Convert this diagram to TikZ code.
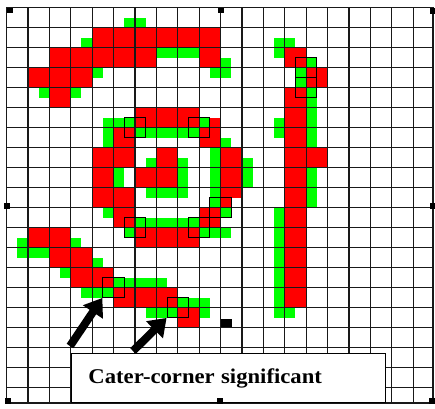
\documentclass[tikz,border=0pt]{standalone}
\usepackage{fontspec}
\setmainfont{Liberation Serif}
\newfontfamily\notefont[FakeStretch=1.08]{Liberation Serif}
\usetikzlibrary{arrows.meta,positioning}
\definecolor{pxred}{RGB}{255,0,0}
\definecolor{pxgreen}{RGB}{0,255,0}
\newcommand{\pxw}{10.7}
\newcommand{\pxh}{10}
\tikzset{
  redpx/.style={fill=pxred},
  greenpx/.style={fill=pxgreen},
  gline/.style={line width=1.2pt,draw=black!90},
  diagbox/.style={draw=black,line width=0.8pt,minimum width=21.4pt,minimum height=20pt,inner sep=0pt},
  handle/.style={fill=black},
  bigarr/.style={-{Triangle[length=17pt,width=23pt]},line width=8pt,draw=black},
  notebox/.style={draw=black,fill=white,line width=0.9pt,minimum height=49pt,text width=280pt,inner xsep=17pt,inner ysep=0pt,align=left}
}

\begin{document}
\begin{tikzpicture}[x=1pt,y=-1pt]
  \useasboundingbox (0,0) rectangle (435,408);
  % pixel runs: first col / last col / first row / last row (half cells)
  \foreach \a/\b/\r/\s in {
     8/19/2/3, 4/13/4/5, 18/19/4/5, 2/7/6/7, 4/5/8/9,
     12/17/10/11, 19/19/11/11, 10/11/12/13, 18/19/12/13, 8/11/14/15, 14/15/14/15,
     20/21/14/18, 8/9/16/17, 12/15/16/17, 8/11/18/19, 20/20/19/19, 10/11/20/21,
     18/19/20/21, 12/17/22/23,
     26/27/4/5, 28/29/6/7, 26/27/8/13, 28/29/14/15, 26/27/14/29,
     2/5/22/23, 4/7/24/25, 6/9/26/27, 10/15/28/29, 16/17/30/31}
    \fill[redpx] ({6.5+\pxw*\a},{7.5+\pxh*\r}) rectangle ({6.5+\pxw*(\b+1)},{7.5+\pxh*(\s+1)});
  \foreach \a/\b/\r/\s in {
     11/12/1/1, 7/7/3/3, 14/17/4/4, 20/20/5/5, 8/8/6/6, 19/20/6/6, 3/3/8/8, 6/6/8/8,
     9/11/11/11, 18/18/11/11, 9/9/12/13, 12/17/12/12, 20/20/13/13, 19/19/14/18,
     13/13/15/15, 16/16/15/17, 22/22/15/17, 10/10/16/17, 13/16/18/18, 19/19/19/19,
     9/9/20/20, 20/20/20/20, 12/17/21/21, 11/11/22/22, 18/20/22/22,
     25/26/3/3, 25/25/4/4, 28/28/5/5, 27/27/6/7, 28/28/8/13, 25/25/11/12,
     28/28/16/19, 25/25/20/29, 25/26/30/30,
     1/1/23/24, 6/6/23/23, 2/3/24/24, 8/8/25/25, 5/5/26/26, 10/14/27/27,
     7/9/28/28, 16/18/29/29, 13/15/30/30, 18/18/30/30}
    \fill[greenpx] ({6.5+\pxw*\a},{7.5+\pxh*\r}) rectangle ({6.5+\pxw*(\b+1)},{7.5+\pxh*(\s+1)});
  \fill[black] (220,319) rectangle (232,328);
  % grid
  \foreach \c in {0,...,19}
    \draw[gline] ({6.5+21.4*\c},7.5) -- ({6.5+21.4*\c},403);
  \foreach \r in {0,...,19}
    \draw[gline] (6.5,{7.5+20*\r}) -- (433,{7.5+20*\r});
  \draw[gline] (6.5,7.5) rectangle (433,403);
  % cater-corner pairs
  \foreach \nm/\i/\j in {ba/27/5, bb/27/7, ra/11/11, rb/17/11, rc/19/19, rd/11/21, re/17/21, sa/9/27, sb/15/29}
    \node[diagbox] (\nm) at ({6.5+\pxw*(\i+1)},{7.5+\pxh*(\j+1)}) {};
  \node[notebox,anchor=north west] (note) at (71,353) {\notefont\fontsize{21}{24}\selectfont\bfseries Cater-corner\hspace{3pt} significant};
  \coordinate (ta) at (70,346);
  \coordinate (tb) at (133,351);
  \draw[bigarr] (ta) -- (sa.south west);
  \draw[bigarr] (tb) -- (sb.south west);
  % selection handles
  \foreach \hx/\hy in {6.5/7.5, 218/7.5, 430/8, 4/203, 430/203, 5/398, 217/398, 429/398}
    \fill[handle] (\hx,\hy) rectangle ++(6,5.5);
\end{tikzpicture}
\end{document}
